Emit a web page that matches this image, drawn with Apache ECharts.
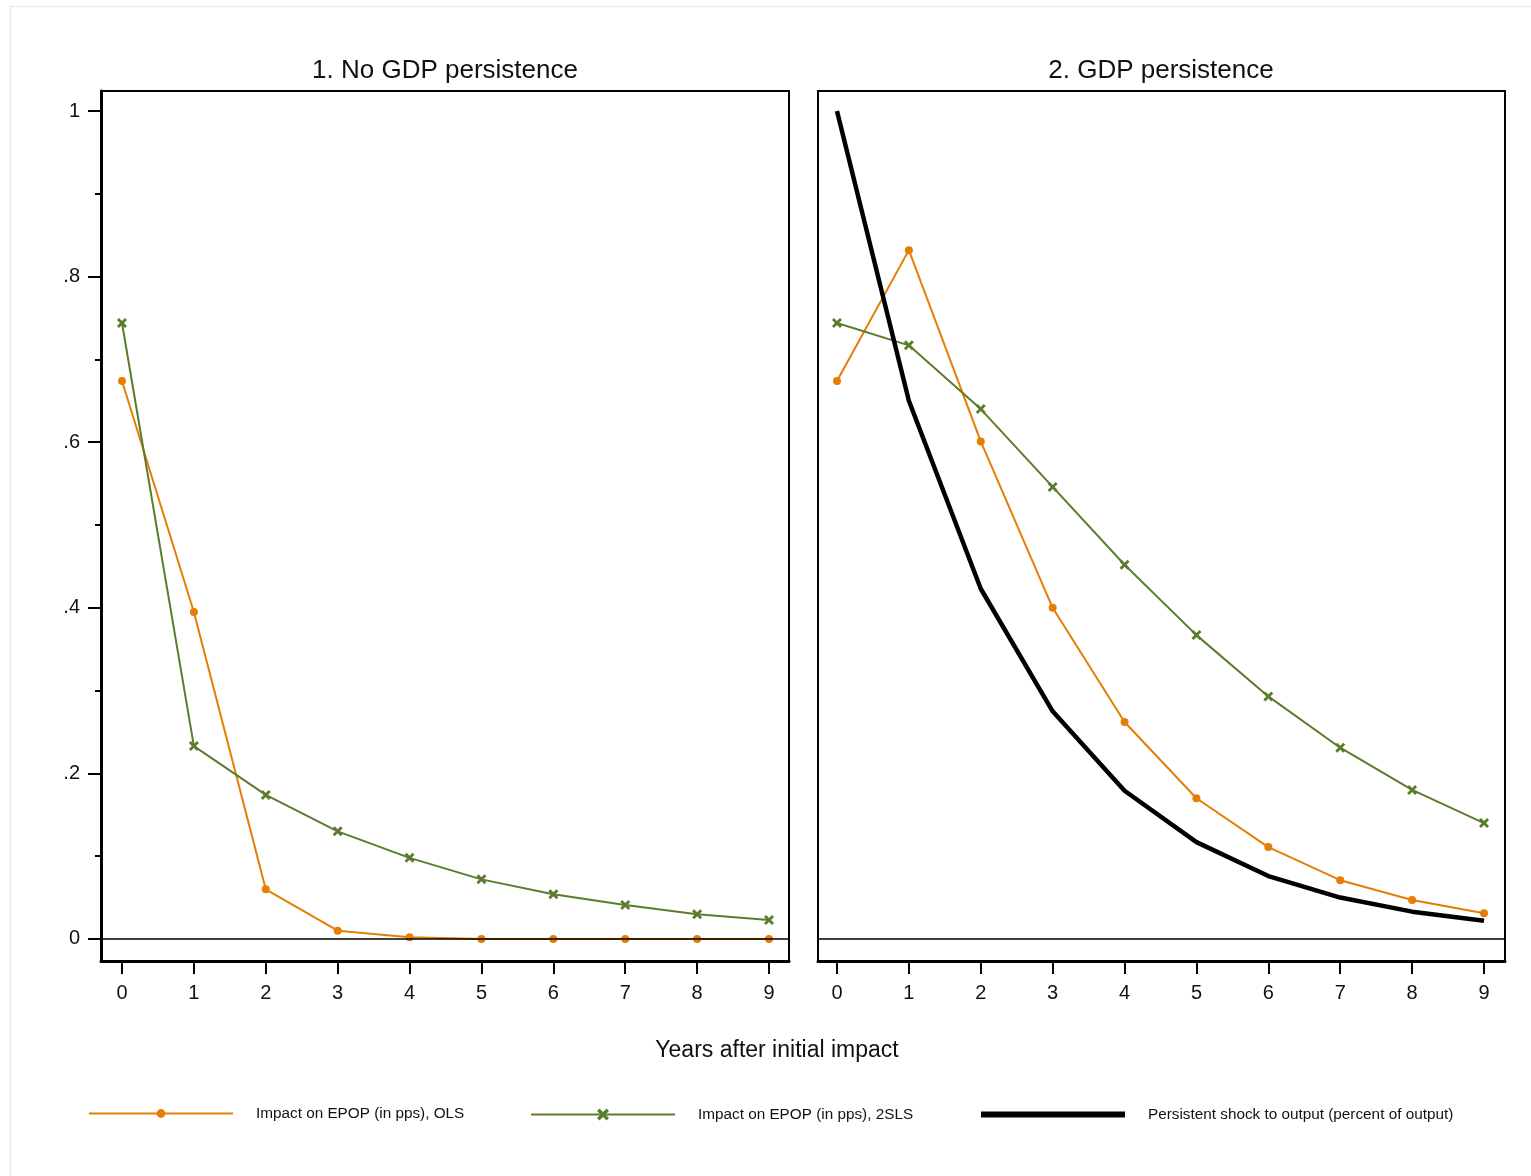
<!DOCTYPE html>
<html>
<head>
<meta charset="utf-8">
<script src="https://cdn.jsdelivr.net/npm/echarts@6/dist/echarts.min.js"></script>
<style>
html,body{margin:0;padding:0;background:#fff;}
#chart{width:1531px;height:1176px;}
</style>
</head>
<body>
<div id="chart"></div>
<script>
const years = [0,1,2,3,4,5,6,7,8,9];
const panelTitles = ['1. No GDP persistence', '2. GDP persistence'];
const seriesNames = ['Impact on EPOP (in pps), OLS', 'Impact on EPOP (in pps), 2SLS', 'Persistent shock to output (percent of output)'];
const xTitle = 'Years after initial impact';
const yTickValues = [0, 0.2, 0.4, 0.6, 0.8, 1];
const yMinorTickValues = [0.1, 0.3, 0.5, 0.7, 0.9];
const yTickLabels = ['0', '.2', '.4', '.6', '.8', '1'];

// Panel 1: no GDP persistence
const olsNoPersist  = [0.674, 0.395, 0.060, 0.010, 0.002, 0.000, 0.000, 0.000, 0.000, 0.000];
const tslsNoPersist = [0.744, 0.233, 0.174, 0.130, 0.098, 0.072, 0.054, 0.041, 0.030, 0.023];
// Panel 2: GDP persistence
const olsPersist    = [0.674, 0.832, 0.601, 0.400, 0.262, 0.170, 0.111, 0.071, 0.047, 0.031];
const tslsPersist   = [0.744, 0.717, 0.640, 0.546, 0.452, 0.367, 0.293, 0.231, 0.180, 0.140];
const outputShock   = [1.000, 0.650, 0.423, 0.275, 0.179, 0.117, 0.076, 0.050, 0.033, 0.022];

const ORANGE = '#e67d05';
const GREEN = '#5a7d2d';
const FONT = '"Liberation Sans", Arial, Helvetica, sans-serif';
const XSYM = 'path://M0,2 L2,0 L5,3 L8,0 L10,2 L7,5 L10,8 L8,10 L5,7 L2,10 L0,8 L3,5 Z';

const pairs = a => years.map((x, i) => [x, a[i]]);

const yMin = -0.0266, yMax = 1.0242;

const chart = echarts.init(document.getElementById('chart'));

function xAxisFor(gi, min, max) {
  return {
    type: 'value', gridIndex: gi, min: min, max: max, position: 'bottom',
    axisLine: { show: true, onZero: false, lineStyle: { color: '#000', width: 3 } },
    axisTick: { show: true, length: 13, customValues: years, lineStyle: { color: '#000', width: 2 } },
    axisLabel: { show: true, customValues: years, margin: 22, fontSize: 20, color: '#111', fontFamily: FONT },
    splitLine: { show: false }
  };
}

const titleStyle = size => ({ fontSize: size, fontWeight: 'normal', color: '#111', fontFamily: FONT });

const option = {
  backgroundColor: '#fff',
  animation: false,
  graphic: [{
    type: 'rect', shape: { x: 10.5, y: 6.5, width: 1600, height: 1300 },
    style: { fill: 'none', stroke: '#e8eeee', lineWidth: 1.5 }, silent: true, z: -10
  }],
  title: [
    { text: panelTitles[0], left: 445, top: 58, textAlign: 'center', padding: 0, textStyle: titleStyle(26) },
    { text: panelTitles[1], left: 1161, top: 58, textAlign: 'center', padding: 0, textStyle: titleStyle(26) },
    { text: xTitle, left: 777, top: 1039, textAlign: 'center', padding: 0, textStyle: titleStyle(23) }
  ],
  legend: [
    { data: [seriesNames[0]], left: 88, top: 1106, padding: 0, itemWidth: 144, itemHeight: 11,
      textStyle: { fontSize: 15.3, color: '#111', fontFamily: FONT, padding: [0, 0, 0, 18] } },
    { data: [seriesNames[1]], left: 530, top: 1107, padding: 0, itemWidth: 144, itemHeight: 15,
      textStyle: { fontSize: 15.3, color: '#111', fontFamily: FONT, padding: [0, 0, 0, 18] } },
    { data: [{ name: seriesNames[2], icon: 'rect' }], left: 981, top: 1107, padding: 0, itemWidth: 144, itemHeight: 6,
      textStyle: { fontSize: 15.3, color: '#111', fontFamily: FONT, padding: [0, 0, 0, 18] } }
  ],
  grid: [
    { left: 101, top: 91, width: 688, height: 870, show: true, borderColor: '#000', borderWidth: 2, backgroundColor: 'transparent' },
    { left: 818, top: 91, width: 687, height: 870, show: true, borderColor: '#000', borderWidth: 2, backgroundColor: 'transparent' }
  ],
  xAxis: [
    xAxisFor(0, -0.292, 9.278),
    xAxisFor(1, -0.264, 9.292)
  ],
  yAxis: [
    { type: 'value', gridIndex: 0, min: yMin, max: yMax, position: 'left',
      axisLine: { show: true, onZero: false, lineStyle: { color: '#000', width: 3 } },
      axisTick: { show: true, length: 13, customValues: yTickValues, lineStyle: { color: '#000', width: 2 } },
      axisLabel: { show: true, customValues: yTickValues, margin: 21, fontSize: 20, color: '#111', fontFamily: FONT,
        formatter: v => { const i = yTickValues.findIndex(t => Math.abs(t - v) < 1e-6); return i >= 0 ? yTickLabels[i] : ''; } },
      splitLine: { show: false } },
    { type: 'value', gridIndex: 0, min: yMin, max: yMax, position: 'left', offset: 0,
      axisLine: { show: false, onZero: false },
      axisTick: { show: true, length: 6, customValues: yMinorTickValues, lineStyle: { color: '#000', width: 2 } },
      axisLabel: { show: false },
      splitLine: { show: false } },
    { type: 'value', gridIndex: 1, min: yMin, max: yMax, position: 'left',
      axisLine: { show: false, onZero: false }, axisTick: { show: false }, axisLabel: { show: false },
      splitLine: { show: false } }
  ],
  series: [
    { name: seriesNames[0], type: 'line', xAxisIndex: 0, yAxisIndex: 0, data: pairs(olsNoPersist),
      lineStyle: { color: ORANGE, width: 2 }, itemStyle: { color: ORANGE },
      symbol: 'circle', symbolSize: 8, showAllSymbol: true,
      markLine: { silent: true, symbol: 'none', label: { show: false },
        lineStyle: { color: '#000', width: 1.5, type: 'solid' }, data: [{ yAxis: 0 }] } },
    { name: seriesNames[1], type: 'line', xAxisIndex: 0, yAxisIndex: 0, data: pairs(tslsNoPersist),
      lineStyle: { color: GREEN, width: 2 }, itemStyle: { color: GREEN },
      symbol: XSYM, symbolSize: 10, showAllSymbol: true },
    { name: seriesNames[0], type: 'line', xAxisIndex: 1, yAxisIndex: 2, data: pairs(olsPersist),
      lineStyle: { color: ORANGE, width: 2 }, itemStyle: { color: ORANGE },
      symbol: 'circle', symbolSize: 8, showAllSymbol: true,
      markLine: { silent: true, symbol: 'none', label: { show: false },
        lineStyle: { color: '#000', width: 1.5, type: 'solid' }, data: [{ yAxis: 0 }] } },
    { name: seriesNames[1], type: 'line', xAxisIndex: 1, yAxisIndex: 2, data: pairs(tslsPersist),
      lineStyle: { color: GREEN, width: 2 }, itemStyle: { color: GREEN },
      symbol: XSYM, symbolSize: 10, showAllSymbol: true },
    { name: seriesNames[2], type: 'line', xAxisIndex: 1, yAxisIndex: 2, data: pairs(outputShock),
      lineStyle: { color: '#000', width: 4.5 }, itemStyle: { color: '#000' },
      symbol: 'none' }
  ]
};
chart.setOption(option);
</script>
</body>
</html>
